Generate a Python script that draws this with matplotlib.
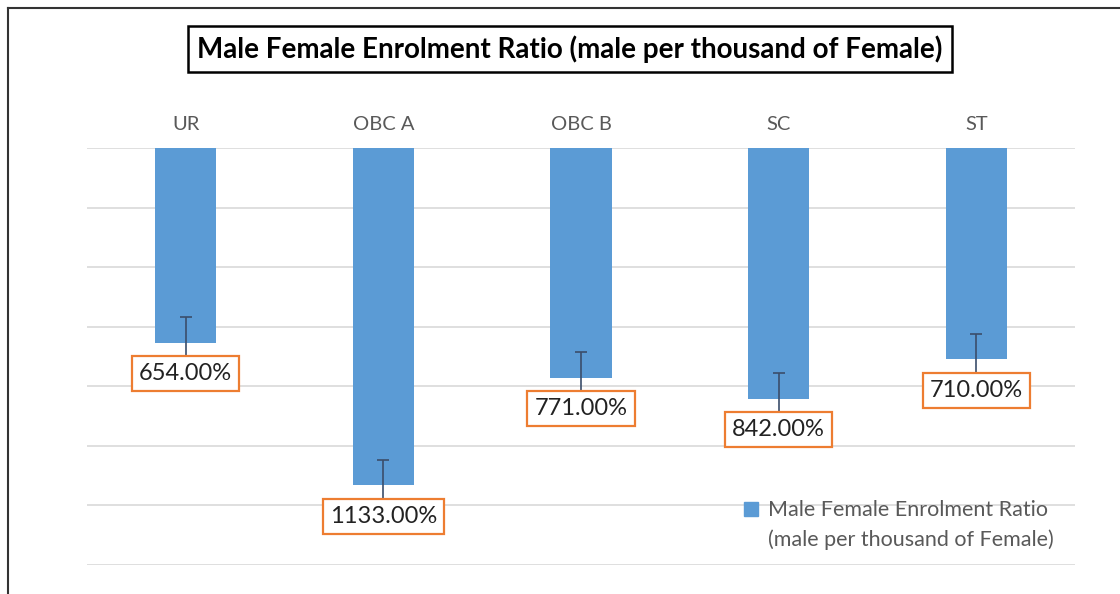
import matplotlib
matplotlib.use("Agg")
import matplotlib.pyplot as plt
from matplotlib.lines import Line2D
from matplotlib.patches import Rectangle

plt.rcParams['font.family'] = ['Lato', 'DejaVu Sans']

categories = ["UR", "OBC A", "OBC B", "SC", "ST"]
values = [654, 1133, 771, 842, 710]
errors = [85, 85, 85, 85, 85]
value_labels = ["654.00%", "1133.00%", "771.00%", "842.00%", "710.00%"]
title = "Male Female Enrolment Ratio (male per thousand of Female)"
legend_lines = ["Male Female Enrolment Ratio", "(male per thousand of Female)"]

BAR = "#5B9BD5"
GRAY = "#595959"
GRID = "#D9D9D9"
ORANGE = "#ED7D31"

fig = plt.figure(figsize=(11.2, 5.94), dpi=100)
ax = fig.add_axes([87/1120, (594-565)/594, 988/1120, (565-148)/594])

x = list(range(len(categories)))
ax.bar(x, values, width=0.31, color=BAR, zorder=2)
ax.errorbar(x, values, yerr=errors, fmt='none', ecolor='#3B4E6B',
            elinewidth=1.2, capsize=4, capthick=1.2, zorder=3)

ax.set_xlim(-0.5, len(categories) - 0.5)
ax.set_ylim(1400, 0)
ax.set_yticks(range(0, 1401, 200))
ax.yaxis.grid(True, color=GRID, linewidth=1.2, zorder=0)
ax.set_axisbelow(True)
ax.tick_params(axis='y', left=False, labelleft=False)
ax.xaxis.tick_top()
ax.set_xticks(x)
ax.set_xticklabels(categories, fontsize=14.5, color=GRAY)
ax.tick_params(axis='x', length=0, pad=11)
for s in ax.spines.values():
    s.set_visible(False)

for xi, v, lab in zip(x, values, value_labels):
    ax.annotate(lab, xy=(xi, v), xytext=(0, -31), textcoords='offset pixels',
                ha='center', va='center', fontsize=17, color='#222222', zorder=5,
                bbox=dict(boxstyle='square,pad=0.3', fc='white', ec=ORANGE, lw=1.6))

# Title with box
fig.text(570/1120, 1 - 49/594, title, ha='center', va='center', fontsize=20,
         fontweight='bold', color='black',
         bbox=dict(boxstyle='square,pad=0.33', fc='white', ec='black', lw=1.8))

# Legend
fig.add_artist(Rectangle((744/1120, 1 - 516/594), 14/1120, 14/594,
                         transform=fig.transFigure, color=BAR))
fig.text(768/1120, 1 - 510/594, legend_lines[0], ha='left', va='center',
         fontsize=15.5, color=GRAY)
fig.text(768/1120, 1 - 540/594, legend_lines[1], ha='left', va='center',
         fontsize=15.5, color=GRAY)

# Outer frame (left and top)
fig.add_artist(Line2D([8/1120, 8/1120], [0, 1 - 8/594], transform=fig.transFigure,
                      color='#333333', lw=1.5))
fig.add_artist(Line2D([8/1120, 1], [1 - 8/594, 1 - 8/594], transform=fig.transFigure,
                      color='#333333', lw=1.5))

fig.savefig("out.png", dpi=100)
